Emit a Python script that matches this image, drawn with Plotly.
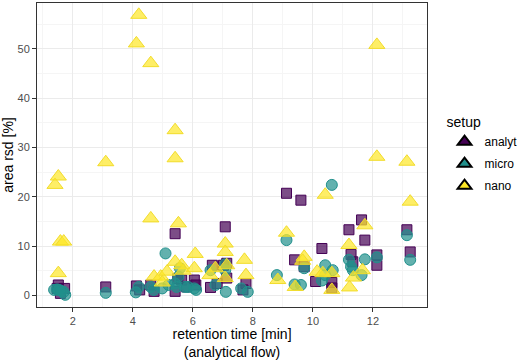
import plotly.graph_objects as go

# ---- data (retention time [min], area rsd [%]) ----
analyt_x = [1.48, 1.52, 1.59, 1.73, 3.1, 4.12, 4.23, 4.6, 4.71, 5.41, 5.41, 5.5, 5.63, 5.79, 6.05, 6.1,
            6.59, 6.65, 6.81, 7.02, 7.08, 7.13, 7.13, 7.67, 7.77, 9.12, 9.6, 9.39, 9.71, 10.3, 10.09,
            10.63, 10.63, 11.2, 11.62, 11.73, 11.27, 11.33, 12.13, 12.13, 13.13, 13.24]
analyt_y = [1.4, 2.1, 0.4, 1.4, 1.7, 1.9, 1.1, 2.1, 0.8, 12.5, 0.8, 3.4, 3.1, 1.7, 3.1, 2.1,
            1.6, 6.1, 2.4, 6.1, 13.9, 3.5, 6.5, 1.1, 2.4, 20.7, 19.3, 7.2, 5.8, 9.5, 2.8,
            2.6, 1.5, 13.3, 15.3, 11.2, 8.3, 6.8, 8.2, 6.1, 13.3, 8.8]

micro_x = [1.38, 1.48, 1.54, 1.62, 1.7, 1.75, 3.1, 4.1, 4.2, 4.6, 4.7, 4.98, 5.09, 5.19, 5.41, 5.46,
           5.57, 5.52, 5.73, 5.84, 6.05, 6.11, 6.59, 6.75, 7.08, 7.08, 7.1, 7.61, 7.83, 8.8, 9.12,
           9.39, 9.6, 9.71, 10.3, 10.41, 10.41, 10.63, 10.66, 11.2, 11.27, 11.33, 11.62, 11.73,
           12.13, 13.13, 13.24]
micro_y = [1.1, 1.2, 1.1, 0.9, 0.7, 0.1, 0.5, 0.6, 1.7, 1.7, 1.1, 1.4, 8.5, 2.1, 2.4, 1.7,
           5.5, 3.8, 1.7, 1.7, 1.4, 1.1, 5.1, 2.1, 6.3, 5.1, 0.7, 1.4, 0.7, 4.1, 11.2,
           2.2, 2.1, 5.5, 3.0, 6.1, 4.1, 22.4, 5.1, 7.2, 5.8, 5.1, 4.1, 7.3,
           7.7, 12.2, 7.2]

nano_x = [1.41, 1.52, 1.59, 1.7, 1.52, 3.1, 4.12, 4.2, 4.6, 4.6, 5.41, 5.41, 5.52, 4.71, 4.93, 5.14,
          4.98, 5.41, 5.63, 5.68, 6.08, 6.05, 6.57, 6.75, 7.08, 7.08, 7.13, 7.08, 7.72, 7.77, 8.83,
          9.12, 9.41, 9.71, 9.66, 10.14, 10.33, 10.63, 10.63, 10.41, 11.2, 11.73, 11.65, 11.35,
          11.22, 12.13, 12.13, 13.13, 13.24]
nano_y = [22.4, 24.1, 10.9, 10.9, 4.5, 27.0, 51.1, 56.9, 47.1, 15.6, 33.5, 27.8, 14.6, 3.8, 3.8, 4.8,
          2.6, 6.8, 6.1, 5.0, 8.4, 5.5, 4.1, 5.5, 10.5, 8.8, 6.1, 3.5, 7.2, 4.1, 3.1,
          12.7, 1.7, 7.8, 7.0, 4.8, 4.5, 4.5, 1.1, 20.4, 10.2, 14.2, 5.1, 3.6,
          1.6, 50.8, 28.1, 27.1, 19.0]

setups = ["analyt", "micro", "nano"]
x_ticks = [2, 4, 6, 8, 10, 12]
y_ticks = [0, 10, 20, 30, 40, 50]

FONT = "Liberation Sans, Arial, sans-serif"
fills = {"analyt": "rgba(68,1,84,0.7)", "micro": "rgba(33,144,140,0.7)", "nano": "rgba(253,231,37,0.7)"}
edges = {"analyt": "#440154", "micro": "#21908C", "nano": "#F2DC2A"}
solid = {"analyt": "#440154", "micro": "#21908C", "nano": "#FDE725"}
symbols = {"analyt": "square", "micro": "circle", "nano": "triangle-up"}
sizes = {"analyt": 10, "micro": 11, "nano": 14}

series = {"analyt": (analyt_x, analyt_y), "micro": (micro_x, micro_y), "nano": (nano_x, nano_y)}

fig = go.Figure()
for s in setups:
    xs, ys = series[s]
    fig.add_trace(go.Scatter(
        x=xs, y=ys, mode="markers", name=s, showlegend=False, legendgroup=s,
        marker=dict(symbol=symbols[s], size=sizes[s], color=fills[s],
                    line=dict(color=edges[s], width=1)),
    ))
# legend keys (triangles with black outline)
for s in setups:
    fig.add_trace(go.Scatter(
        x=[None], y=[None], mode="markers", name=s, showlegend=True, legendgroup=s,
        marker=dict(symbol="triangle-up", size=13, color=solid[s],
                    line=dict(color="black", width=2)),
    ))

axis_common = dict(
    showline=True, linecolor="#333333", linewidth=1, mirror=True,
    showgrid=True, gridcolor="#EBEBEB", gridwidth=1,
    ticks="outside", ticklen=4, tickcolor="#333333", tickwidth=1,
    tickfont=dict(family=FONT, size=11, color="#4D4D4D"),
    zeroline=False, automargin=False,
)

fig.update_layout(
    width=526, height=360,
    margin=dict(l=37, r=86, t=3, b=53),
    paper_bgcolor="white", plot_bgcolor="white",
    font=dict(family=FONT),
    xaxis=dict(range=[0.81, 13.8], tickvals=x_ticks,
               minor=dict(showgrid=True, gridcolor="#F5F5F5", tickvals=[1, 3, 5, 7, 9, 11, 13], ticks=""),
               title=dict(text="retention time [min]<br>(analytical flow)",
                          font=dict(family=FONT, size=14, color="black"), standoff=7),
               **axis_common),
    yaxis=dict(range=[-2.37, 59.3], tickvals=y_ticks,
               minor=dict(showgrid=True, gridcolor="#F5F5F5", tickvals=[5, 15, 25, 35, 45, 55], ticks=""),
               title=dict(text="area rsd [%]", font=dict(family=FONT, size=14, color="black"), standoff=4),
               **axis_common),
    legend=dict(x=1.045, y=0.5, xanchor="left", yanchor="middle",
                title=dict(text="setup", font=dict(family=FONT, size=14, color="black")),
                font=dict(family=FONT, size=12, color="black"),
                itemsizing="constant", tracegroupgap=3),
)

fig.write_html("out.html", post_script="document.body.style.margin='0';",
               config={"displayModeBar": False})
